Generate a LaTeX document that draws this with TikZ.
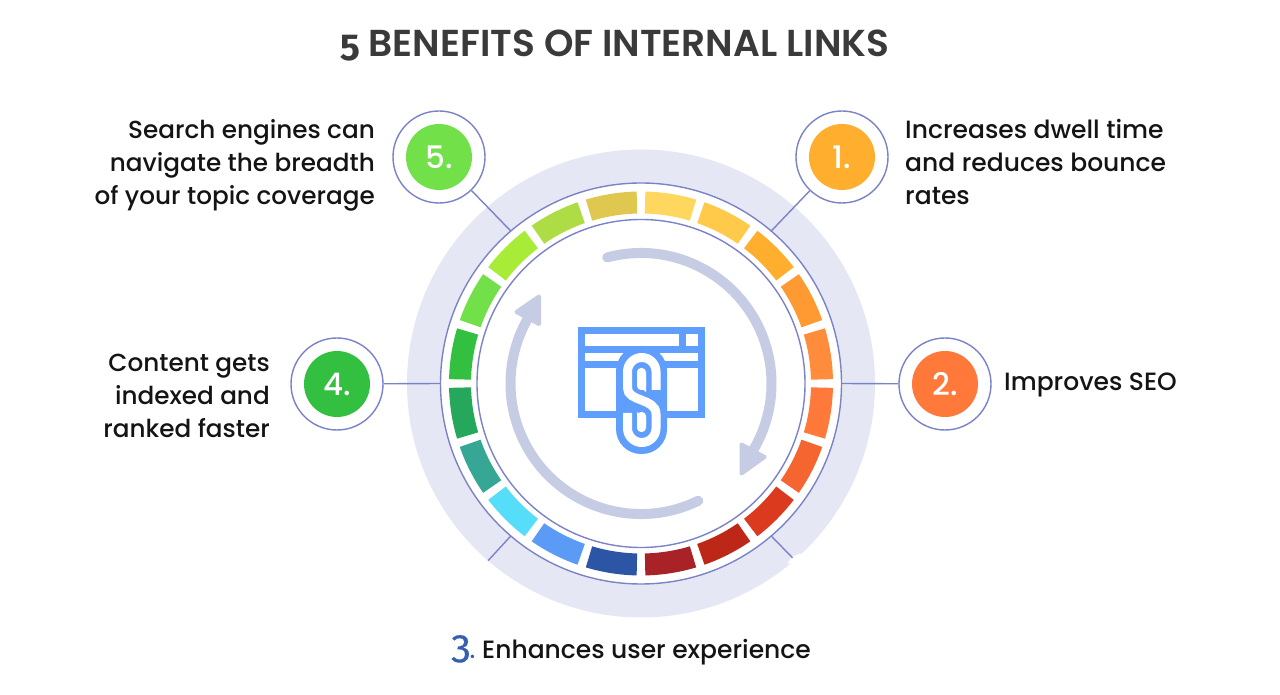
\documentclass[tikz,border=0pt]{standalone}
\usepackage{fontspec}
\setmainfont{Poppins Medium}[BoldFont=Poppins SemiBold]
\newfontfamily\oldnum[Numbers=OldStyle]{Fira Sans}
\newfontfamily\oldnummed[Numbers=OldStyle,FakeBold=0.4]{Fira Sans}
\definecolor{pale}{HTML}{E5E8F4}
\definecolor{ringline}{HTML}{7C82C8}
\definecolor{arrowc}{HTML}{C5CCE3}
\definecolor{iconc}{HTML}{5F9EFC}
\definecolor{inkc}{HTML}{141414}
\definecolor{titlec}{HTML}{3A3A3A}
\definecolor{numblue}{HTML}{3560B0}
\definecolor{sa}{HTML}{FFD75F}\definecolor{sb}{HTML}{FFC94A}\definecolor{sc}{HTML}{FFAE2E}\definecolor{sd}{HTML}{FF9A33}\definecolor{se}{HTML}{FF8C3A}
\definecolor{sf}{HTML}{FF7A3A}\definecolor{sg}{HTML}{F46530}\definecolor{sh}{HTML}{DB3A1E}\definecolor{si}{HTML}{BD2718}\definecolor{sj}{HTML}{A82228}
\definecolor{sk}{HTML}{2D55A5}\definecolor{sl}{HTML}{5B9BF5}\definecolor{sm}{HTML}{55DDFA}\definecolor{sn}{HTML}{35A794}\definecolor{so}{HTML}{26A85C}
\definecolor{sp}{HTML}{33C040}\definecolor{sq}{HTML}{72E048}\definecolor{sr}{HTML}{A8EC38}\definecolor{ss}{HTML}{AEDC45}\definecolor{st}{HTML}{E0C850}
\tikzset{
  x=1pt,y=1pt,
  badge/.style={circle,draw=ringline,line width=1.4pt,minimum size=92pt,inner sep=0pt,fill=white},
  disc/.style={circle,minimum size=66pt,inner sep=0pt,text=white,font=\fontsize{31}{31}\selectfont},
  link/.style={draw=ringline,line width=1.4pt},
  label/.style={font=\fontsize{25}{33}\selectfont,text=inkc,inner sep=0pt},
  labelleft/.style={label,font=\fontsize{24.7}{33}\selectfont},
  flow/.style={draw=arrowc,line width=10pt,line cap=round},
  flowhead/.style={fill=arrowc,draw=arrowc,line width=4pt,line join=round},
  iconline/.style={draw=iconc,line width=7pt},
}
\begin{document}
\begin{tikzpicture}
\useasboundingbox (0,0) rectangle (1280,694);
\fill[white] (0,0) rectangle (1280,694);
\node[font=\fontsize{37.5}{37.5}\selectfont\bfseries,text=titlec,inner sep=0pt,anchor=base west] (title) at (340,637) {{\oldnum\bfseries 5} BENEFITS OF INTERNAL LINKS};
\begin{scope}[shift={(641,310.5)}]
  \fill[pale] (0,0) circle (234);
  \draw[link,fill=white] (0,0) circle (200.5);
  \draw[link] (0,0) circle (164);
  \foreach \c [count=\i from 0] in {sa,sb,sc,sd,se,sf,sg,sh,si,sj,sk,sl,sm,sn,so,sp,sq,sr,ss,st}{
    \pgfmathsetmacro{\aone}{90-18*\i-1.3}
    \pgfmathsetmacro{\atwo}{90-18*(\i+1)+1.3}
    \fill[\c] (\aone:192) arc[start angle=\aone,end angle=\atwo,radius=192] -- (\atwo:170) arc[start angle=\atwo,end angle=\aone,radius=170] -- cycle;
  }
  \coordinate (r1) at (49.5:200.5);
  \coordinate (r2) at (0:200.5);
  \coordinate (r4) at (180:200.5);
  \coordinate (r5) at (130.5:200.5);
  \coordinate (r3a) at (-130.5:200.5);
  \coordinate (e3a) at (-130.8:234);
  \coordinate (r3b) at (-49.5:200.5);
  \coordinate (e3b) at (-49:231);
  \draw[flow] (105:130.5) arc[start angle=105,end angle=-31,radius=130.5];
  \draw[flow] (-64:130.5) arc[start angle=-64,end angle=-215,radius=130.5];
\end{scope}
% notch in the pale ring
\fill[white,rounded corners=1.5pt] (787,694-564) -- (792,694-557) -- (800,694-553) -- (808,694-560) -- cycle;
% arrowheads
\filldraw[flowhead] (741.5,694-444.5) -- (764.5,694-457) -- (741.5,694-473.5) -- cycle;
\filldraw[flowhead] (516.5,694-312) -- (539,694-296.5) -- (539,694-324) -- cycle;
% icon
\draw[iconline] (581.5,694-330.5) rectangle (701.5,694-414.5);
\draw[iconline] (578,694-349.5) -- (705,694-349.5);
\draw[iconline] (578,694-364.5) -- (705,694-364.5);
\draw[iconline] (682.5,694-330) -- (682.5,694-349.5);
\fill[iconc,rounded corners=25pt] (616,694-346) rectangle (667,694-454);
\draw[white,line width=9pt] (656,694-390) -- (656,694-371.75) arc[start angle=0,end angle=180,radius=14.25] -- (627.5,694-388) .. controls (627.5,694-402) and (656,694-398) .. (656,694-414) -- (656,694-428.25) arc[start angle=0,end angle=-180,radius=14.25] -- (627.5,694-413);
\fill[white,rounded corners=4pt] (637,694-368) rectangle (646,694-390);
\fill[white] (637,694-378) -- (646,694-378) -- (646,694-392) -- (637,694-385) -- cycle;
\fill[white,rounded corners=4pt] (637,694-432) rectangle (646,694-412);
\fill[white] (637,694-424) -- (646,694-424) -- (646,694-419) -- (637,694-412) -- cycle;
% badges
\node[badge] (c1) at (842,694-157) {};
\node[badge] (c2) at (945,694-384) {};
\node[badge] (c4) at (337,694-384) {};
\node[badge] (c5) at (439,694-157) {};
\draw[link] (c1) -- (r1);
\draw[link] (c2) -- (r2);
\draw[link] (c4) -- (r4);
\draw[link] (c5) -- (r5);
\draw[link] (r3a) -- (e3a);
\draw[link] (r3b) -- (e3b);
\node[disc,fill=sc] (d1) at (c1) {1.};
\node[disc,fill=sf] (d2) at (c2) {2.};
\node[disc,fill=sp] (d4) at (c4) {4.};
\node[disc,fill=sq] (d5) at (c5) {5.};
% labels
\node[label,align=left,anchor=west] (t1) at (905,694-162) {Increases dwell time\\and reduces bounce\\rates};
\node[label,align=left,anchor=west] (t2) at (1004,694-385) {Improves SEO};
\node[labelleft,align=right,anchor=east] (t4) at (270,694-396) {Content gets\\indexed and\\ranked faster};
\node[labelleft,align=right,anchor=east] (t5) at (375,694-165) {Search engines can\\navigate the breadth\\of your topic coverage};
\node[label,anchor=base west] (t3) at (482,694-658) {Enhances user experience};
\node[anchor=base west,inner sep=0pt,text=numblue,font=\fontsize{40}{40}\selectfont] (n3) at (451,694-658) {{\oldnummed 3}{\fontsize{24}{24}\selectfont\hspace{-1pt}.}};
\end{tikzpicture}
\end{document}
